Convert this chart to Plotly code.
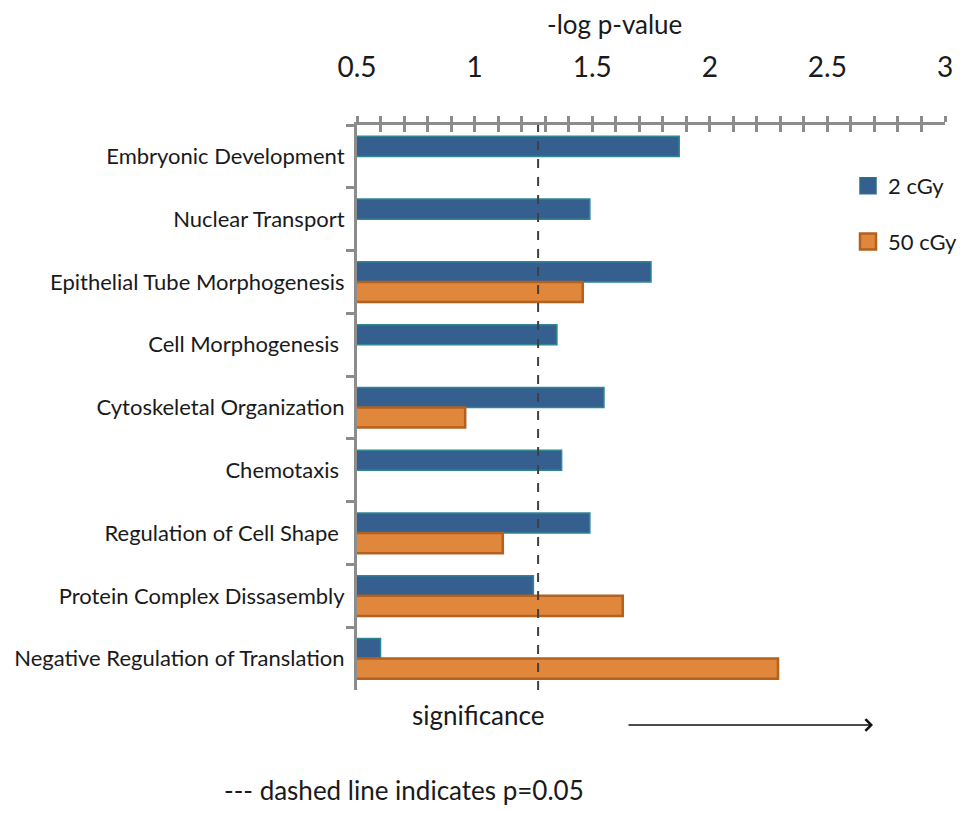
import plotly.graph_objects as go

categories = [
    "Embryonic Development",
    "Nuclear Transport",
    "Epithelial Tube Morphogenesis",
    "Cell Morphogenesis ",
    "Cytoskeletal Organization",
    "Chemotaxis ",
    "Regulation of Cell Shape ",
    "Protein Complex Dissasembly",
    "Negative Regulation of Translation",
]
values_2cgy = [1.87, 1.49, 1.75, 1.35, 1.55, 1.37, 1.49, 1.25, 0.60]
values_50cgy = [None, None, 1.46, None, 0.96, None, 1.12, 1.63, 2.29]
significance_line = 1.27
x_ticks = [0.5, 1, 1.5, 2, 2.5, 3]
x_tick_labels = ["0.5", "1", "1.5", "2", "2.5", "3"]

FONT = "Lato"
AXIS_GREY = "#8c8c8c"
BLUE, BLUE_EDGE = "#355f8e", "#2f8796"
ORANGE, ORANGE_EDGE = "#e0873c", "#b2611f"

# the page's default body margin is removed after plotting (see post_script)
OFF = 0
W, H = 962, 813
PL, PR, PT, PB = 357, 945, 125, 690  # plot area in window pixels

fig = go.Figure()
fig.add_trace(go.Bar(
    y=categories, x=values_2cgy, orientation="h", name="2 cGy",
    marker=dict(color=BLUE, line=dict(color=BLUE_EDGE, width=1.5)),
    showlegend=False,
))
fig.add_trace(go.Bar(
    y=categories, x=values_50cgy, orientation="h", name="50 cGy",
    marker=dict(color=ORANGE, line=dict(color=ORANGE_EDGE, width=2.5)),
    showlegend=False,
))
# legend entries with larger square swatches
fig.add_trace(go.Scatter(x=[None], y=[None], mode="markers", name="2 cGy", legendgroup="a",
                         marker=dict(symbol="square", size=19, color=BLUE, line=dict(color="#2d6f8a", width=1.5))))
fig.add_trace(go.Scatter(x=[None], y=[None], mode="markers", name="50 cGy", legendgroup="b",
                         marker=dict(symbol="square", size=18, color=ORANGE, line=dict(color=ORANGE_EDGE, width=2.5))))
# dummy trace to activate overlay axis for crossing ticks
fig.add_trace(go.Scatter(x=[None], y=[None], xaxis="x2", showlegend=False, hoverinfo="skip"))

fig.add_shape(type="line", xref="x", yref="paper", x0=significance_line, x1=significance_line,
              y0=0, y1=1, line=dict(color="#404040", width=2, dash="dash"))

pw, ph = PR - PL, PB - PT

fig.update_layout(
    width=W, height=H,
    margin=dict(l=PL - OFF, r=W - (PR - OFF), t=PT - OFF, b=H - (PB - OFF), autoexpand=False),
    plot_bgcolor="white", paper_bgcolor="white",
    barmode="group", bargap=0.36, bargroupgap=0,
    font=dict(family=FONT, color="#1a1a1a", size=22),
    xaxis=dict(
        side="top", range=[0.5, 3], tickvals=x_ticks, ticktext=x_tick_labels, automargin=False,
        showgrid=False, zeroline=False, showline=True, linecolor=AXIS_GREY, linewidth=3,
        ticks="outside", ticklen=6, tickwidth=2.5, tickcolor=AXIS_GREY,
        minor=dict(dtick=0.1, tick0=0.5, ticks="outside", ticklen=6, tickwidth=2.5, tickcolor=AXIS_GREY),
        tickfont=dict(size=28, family=FONT, color="#1a1a1a"),
        ticklabelstandoff=28,
    ),
    xaxis2=dict(
        overlaying="x", side="top", range=[0.5, 3], tickvals=x_ticks, automargin=False,
        showticklabels=False, showgrid=False, zeroline=False, showline=False,
        ticks="inside", ticklen=7, tickwidth=2.5, tickcolor=AXIS_GREY,
        minor=dict(dtick=0.1, tick0=0.5, ticks="inside", ticklen=7, tickwidth=2.5, tickcolor=AXIS_GREY),
    ),
    yaxis=dict(
        autorange="reversed", showgrid=False, zeroline=False, automargin=False,
        showline=True, linecolor=AXIS_GREY, linewidth=3,
        ticks="outside", tickson="boundaries", ticklen=8, tickwidth=2.5, tickcolor=AXIS_GREY,
        tickfont=dict(size=22, family=FONT, color="#1a1a1a"),
        ticklabelstandoff=5,
    ),
    legend=dict(
        x=(848 - PL) / pw, y=1 - (165 - PT) / ph, xanchor="left", yanchor="top", xref="paper", yref="paper",
        font=dict(size=22, family=FONT), tracegroupgap=24, bgcolor="rgba(0,0,0,0)",
        itemwidth=30,
    ),
    showlegend=True,
)

fig.add_annotation(text="-log p-value", xref="paper", yref="paper", x=(614 - PL) / pw, y=1,
                   yshift=PT - 24, showarrow=False, font=dict(size=26, family=FONT), xanchor="center", yanchor="middle")
fig.add_annotation(text="significance", xref="paper", yref="paper", x=(478 - PL) / pw, y=0,
                   yshift=-(715 - PB), showarrow=False, font=dict(size=26, family=FONT), xanchor="center", yanchor="middle")
fig.add_annotation(text="", xref="paper", yref="paper", x=(873 - PL) / pw, y=0, yshift=-(725 - PB),
                   ax=-(873 - 627), ay=0, axref="pixel", ayref="pixel",
                   showarrow=True, arrowhead=4, arrowsize=1.6, arrowwidth=1.4, arrowcolor="#111")
fig.add_annotation(text="--- dashed line indicates p=0.05", xref="paper", yref="paper", x=(222 - PL) / pw, y=0,
                   yshift=-(790 - PB), showarrow=False, font=dict(size=26, family=FONT), xanchor="left", yanchor="middle")

fig.write_html("out.html", config={"displayModeBar": False},
               post_script="document.body.style.margin='0';document.body.style.overflow='hidden';")
